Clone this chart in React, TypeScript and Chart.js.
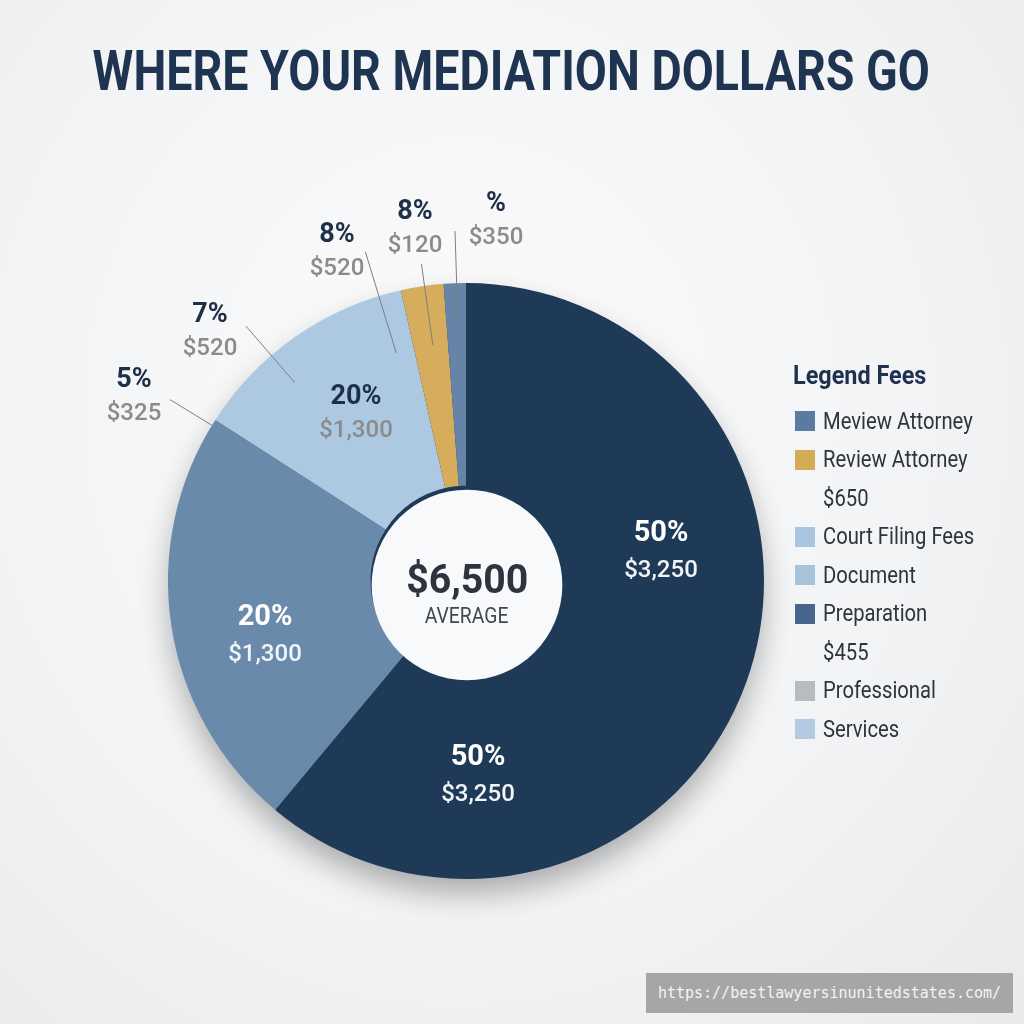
import React, { useEffect, useRef } from "react";
import { Chart, registerables } from "chart.js";

Chart.register(...registerables);

// ---- data ----
const sliceNames = ["Preparation", "Professional Services", "Court Filing Fees", "Review Attorney", "Meview Attorney"];
const sliceValues = [61, 23, 12.4, 2.3, 1.2];
const sliceColors = ["#1e3a57", "#6a8aac", "#adc9e1", "#d6ad5c", "#6584a8"];

const titleText = "WHERE YOUR MEDIATION DOLLARS GO";
const centerValue = "$6,500";
const centerCaption = "AVERAGE";

// callout texts: [percent, amount]
const calloutPercents = ["50%", "50%", "20%", "20%", "5%", "7%", "8%", "8%", "%"];
const calloutAmounts = ["$3,250", "$3,250", "$1,300", "$1,300", "$325", "$520", "$520", "$120", "$350"];

const legendTitle = "Legend Fees";
const legendLabels = ["Meview Attorney", "Review Attorney", "$650", "Court Filing Fees", "Document", "Preparation", "$455", "Professional", "Services"];
const legendSwatches = ["#5b7aa0", "#d4ab57", "", "#aac6de", "#a9c3da", "#46668c", "", "#b9bcbf", "#b3cae0"];

const watermark = "https://bestlawyersinunitedstates.com/";

// ---- layout (not data) ----
const calloutLayout = [
  { x: 661, y: 531, inside: true },
  { x: 478, y: 755, inside: true },
  { x: 265, y: 615, inside: true },
  { x: 356, y: 395, inside: false },
  { x: 134, y: 378, inside: false },
  { x: 210, y: 313, inside: false },
  { x: 337, y: 233, inside: false },
  { x: 415, y: 210, inside: false },
  { x: 496, y: 202, inside: false },
];
// leader lines in polar terms relative to pie: [angleDeg clockwise from top, r0 fraction, r1 fraction]
const leaderLines = [
  [301.5, 1.0, 1.165],
  [319.2, 0.88, 1.13],
  [343.0, 0.8, 1.155],
  [352.0, 0.8, 1.075],
  [358.2, 0.86, 1.19],
];

const shadowPlugin = {
  id: "pieShadow",
  beforeDatasetsDraw(chart: any) {
    const arc = chart.getDatasetMeta(0).data[0];
    if (!arc) return;
    const ctx = chart.ctx;
    ctx.save();
    ctx.shadowColor = "rgba(0,0,0,0.30)";
    ctx.shadowBlur = 30;
    ctx.shadowOffsetY = 16;
    ctx.fillStyle = sliceColors[0];
    ctx.beginPath();
    ctx.arc(arc.x, arc.y, arc.outerRadius - 1, 0, Math.PI * 2);
    ctx.fill();
    ctx.restore();
  },
  afterDatasetsDraw(chart: any) {
    const arc = chart.getDatasetMeta(0).data[0];
    if (!arc) return;
    const ctx = chart.ctx;
    ctx.save();
    ctx.fillStyle = "#f8f9fa";
    ctx.beginPath();
    ctx.arc(arc.x + 1, arc.y + 4, arc.innerRadius, 0, Math.PI * 2);
    ctx.fill();
    ctx.strokeStyle = "#7b7f84";
    ctx.lineWidth = 1;
    for (const [deg, r0, r1] of leaderLines) {
      const a = ((deg - 90) * Math.PI) / 180;
      const R = arc.outerRadius;
      ctx.beginPath();
      ctx.moveTo(arc.x + Math.cos(a) * R * r0, arc.y + Math.sin(a) * R * r0);
      ctx.lineTo(arc.x + Math.cos(a) * R * r1, arc.y + Math.sin(a) * R * r1);
      ctx.stroke();
    }
    ctx.restore();
  },
};

export default function App() {
  const ref = useRef<HTMLCanvasElement>(null);
  useEffect(() => {
    if (!ref.current) return;
    const chart = new Chart(ref.current, {
      type: "doughnut",
      data: {
        labels: sliceNames,
        datasets: [
          {
            data: sliceValues,
            backgroundColor: sliceColors,
            borderWidth: 0,
          },
        ],
      },
      options: {
        animation: false,
        responsive: false,
        cutout: "32%",
        layout: { padding: 52 },
        plugins: { legend: { display: false }, tooltip: { enabled: false } },
      },
      plugins: [shadowPlugin],
    });
    return () => chart.destroy();
  }, []);

  const font = "Roboto, 'Noto Sans', sans-serif";

  return (
    <div
      style={{
        position: "absolute",
        left: 0,
        top: 0,
        width: 1024,
        height: 1024,
        overflow: "hidden",
        fontFamily: font,
        background: "radial-gradient(ellipse at 45% 40%, #fbfbfc 0%, #f3f4f5 55%, #e8eaec 100%)",
      }}
    >
      <div
        style={{
          position: "absolute",
          left: 0,
          top: 38,
          width: 1024,
          textAlign: "center",
          fontSize: 55,
          fontWeight: 700,
          color: "#1f3450",
          lineHeight: "66px",
          whiteSpace: "nowrap",
        }}
      >
        <span style={{ display: "inline-block", transform: "translateX(-1px) scaleX(0.847)" }}>{titleText}</span>
      </div>

      <canvas ref={ref} width={700} height={700} style={{ position: "absolute", left: 116, top: 231, width: 700, height: 700 }} />

      <div
        style={{
          position: "absolute",
          left: 367,
          top: 558,
          width: 200,
          textAlign: "center",
          color: "#2d3440",
          fontSize: 40,
          fontWeight: 700,
          lineHeight: "44px",
        }}
      >
        <span style={{ display: "inline-block", transform: "scaleX(0.98)" }}>{centerValue}</span>
      </div>
      <div
        style={{
          position: "absolute",
          left: 367,
          top: 603,
          width: 200,
          textAlign: "center",
          color: "#45484d",
          fontSize: 22,
          fontWeight: 400,
          lineHeight: "26px",
        }}
      >
        <span style={{ display: "inline-block", transform: "scaleX(0.88)" }}>{centerCaption}</span>
      </div>

      {calloutLayout.map((c, i) => (
        <React.Fragment key={i}>
          <div
            style={{
              position: "absolute",
              left: c.x - 80,
              top: c.y - 18,
              width: 160,
              textAlign: "center",
              fontSize: c.inside ? 29 : 27,
              fontWeight: 700,
              lineHeight: "36px",
              color: c.inside ? "#ffffff" : "#1e2f48",
            }}
          >
            {calloutPercents[i]}
          </div>
          <div
            style={{
              position: "absolute",
              left: c.x - 80,
              top: c.inside ? c.y + 23 : c.y + 19,
              width: 160,
              textAlign: "center",
              fontSize: 24,
              fontWeight: 500,
              lineHeight: "30px",
              color: c.inside ? "#f2f5f8" : "#8a8b8d",
            }}
          >
            {calloutAmounts[i]}
          </div>
        </React.Fragment>
      ))}

      <div
        style={{
          position: "absolute",
          left: 793,
          top: 358,
          fontSize: 26,
          fontWeight: 700,
          color: "#1e3250",
          lineHeight: "34px",
          whiteSpace: "nowrap",
        }}
      >
        <span style={{ display: "inline-block", transform: "scaleX(0.9)", transformOrigin: "left" }}>{legendTitle}</span>
      </div>
      {legendLabels.map((lab, i) => (
        <div
          key={i}
          style={{
            position: "absolute",
            left: 795,
            top: 421 + i * 38.5 - 15,
            height: 30,
            display: "flex",
            alignItems: "center",
            whiteSpace: "nowrap",
          }}
        >
          <div
            style={{
              width: 20,
              height: 20,
              background: legendSwatches[i] || "transparent",
              marginRight: 8,
              flex: "none",
            }}
          />
          <span
            style={{
              fontSize: 23,
              color: "#30343a",
              display: "inline-block",
              transform: "scaleX(0.88)",
              transformOrigin: "left",
            }}
          >
            {lab}
          </span>
        </div>
      ))}

      <div
        style={{
          position: "absolute",
          left: 646,
          top: 973,
          width: 367,
          height: 40,
          background: "#a6a6a6",
          color: "#f4f4f4",
          fontFamily: "'DejaVu Sans Mono', monospace",
          fontSize: 15,
          lineHeight: "40px",
          textAlign: "center",
          whiteSpace: "nowrap",
        }}
      >
        {watermark}
      </div>
    </div>
  );
}
